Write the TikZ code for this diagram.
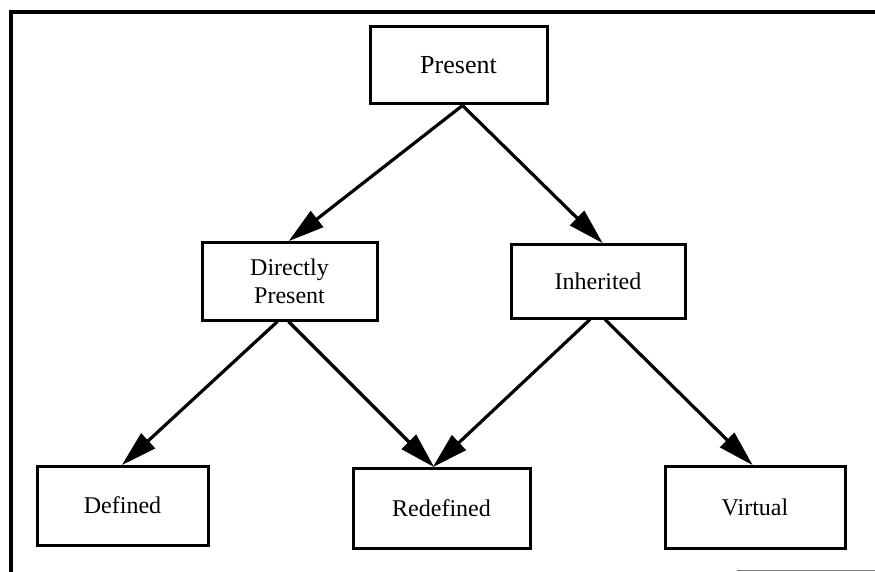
\documentclass[tikz,border=0pt]{standalone}
\usepackage{fontspec}
\setmainfont{Liberation Serif}
\usetikzlibrary{arrows.meta}
\begin{document}
\begin{tikzpicture}[x=1pt,y=-1pt,
  box/.style={draw,line width=3pt,rectangle,inner sep=0pt,align=center,
    font=\fontsize{24}{28}\selectfont},
  conn/.style={line width=3.2pt,-{Triangle[length=36pt,width=20pt]},shorten >=-1pt}]
\useasboundingbox (0,0) rectangle (875,572);
% frame
\draw[line width=4pt] (9,12) -- (875,12);
\draw[line width=3.5pt] (11,12) -- (11,572);
\draw[gray,line width=1pt] (737,570) -- (875,570);
% nodes
\node[box,minimum width=177pt,minimum height=77pt,font=\fontsize{26}{30}\selectfont] (pr) at (458.5,65.5) {Present};
\node[box,minimum width=175pt,minimum height=78pt] (dp) at (289.5,281) {Directly\\Present};
\node[box,minimum width=174pt,minimum height=74pt] (in) at (598,281) {Inherited};
\node[box,minimum width=171pt,minimum height=79pt] (de) at (122.5,505.5) {Defined};
\node[box,minimum width=177pt,minimum height=80pt] (re) at (441.5,508) {Redefined};
\node[box,minimum width=180pt,minimum height=82pt] (vi) at (755,507) {Virtual};
% connectors
\draw[conn] ([xshift=4pt]pr.south) -- ([xshift=0pt]dp.north);
\draw[conn] ([xshift=4pt]pr.south) -- ([xshift=4pt]in.north);
\draw[conn] ([xshift=-12pt]dp.south) -- (de.north);
\draw[conn] ([xshift=-1pt]dp.south) -- ([xshift=-8pt]re.north);
\draw[conn] ([xshift=-8pt]in.south) -- ([xshift=-8pt]re.north);
\draw[conn] ([xshift=7pt]in.south) -- ([xshift=-3pt]vi.north);
\end{tikzpicture}
\end{document}
